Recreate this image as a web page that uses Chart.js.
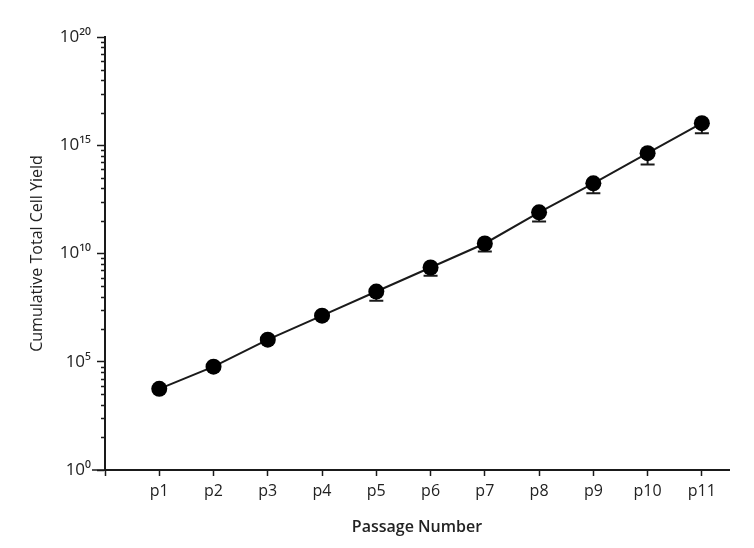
<!DOCTYPE html>
<html>
<head>
<meta charset="utf-8">
<script src="https://cdn.jsdelivr.net/npm/chart.js@4"></script>
<style>
  html, body { margin: 0; padding: 0; background: #fff; }
  #wrap { width: 754px; height: 548px; }
</style>
</head>
<body>
<div id="wrap"><canvas id="chart" width="754" height="548"></canvas></div>
<script>
// passage labels and cumulative yield (log scale)
const passages = ["p1", "p2", "p3", "p4", "p5", "p6", "p7", "p8", "p9", "p10", "p11"];
const cellYield = [5.6e3, 5.9e4, 1.05e6, 1.35e7, 1.75e8, 2.25e9, 2.9e10, 8e11, 1.75e13, 4.3e14, 1.05e16];
const yieldLow = [5.0e3, 5.2e4, 9.0e5, 1.15e7, 6.6e7, 9.5e8, 1.25e10, 3.0e11, 6.0e12, 1.3e14, 3.6e15];
const majorTicks = [1e0, 1e5, 1e10, 1e15, 1e20];
const tickLabels = ["10\u2070", "10\u2075", "10\u00b9\u2070", "10\u00b9\u2075", "10\u00b2\u2070"];

const FONT = "'Open Sans', 'DejaVu Sans', sans-serif";
const INK = "#1a1a1a";

const points = cellYield.map((v, i) => ({ x: i + 1, y: v }));

// minor ticks: log-style spacing inside each 10^5 step
function minorTicks() {
  const out = [];
  for (let d = 0; d < 20; d += 5) {
    for (let k = 2; k <= 9; k++) out.push(Math.pow(10, d) * Math.pow(k, 5));
  }
  return out;
}

const axisExtras = {
  id: "axisExtras",
  afterDraw(chart) {
    const ctx = chart.ctx;
    const y = chart.scales.y;
    const area = chart.chartArea;
    ctx.save();
    ctx.strokeStyle = INK;
    ctx.lineWidth = 1.5;
    ctx.beginPath();
    for (const v of minorTicks()) {
      const py = Math.round(y.getPixelForValue(v)) + 0.5;
      ctx.moveTo(area.left - 4, py);
      ctx.lineTo(area.left, py);
    }
    // axis origin extends a bit to the left
    ctx.moveTo(area.left - 13, area.bottom);
    ctx.lineTo(area.left, area.bottom);
    ctx.stroke();
    ctx.restore();
  }
};

const errorBars = {
  id: "errorBars",
  beforeDatasetsDraw(chart) {
    const ctx = chart.ctx;
    const xs = chart.scales.x;
    const ys = chart.scales.y;
    ctx.save();
    ctx.strokeStyle = INK;
    ctx.lineWidth = 2;
    ctx.beginPath();
    cellYield.forEach((v, i) => {
      const px = xs.getPixelForValue(i + 1);
      const top = ys.getPixelForValue(v);
      const bot = ys.getPixelForValue(yieldLow[i]);
      ctx.moveTo(px, top);
      ctx.lineTo(px, bot);
      ctx.moveTo(px - 7, bot);
      ctx.lineTo(px + 7, bot);
    });
    ctx.stroke();
    ctx.restore();
  }
};

new Chart(document.getElementById("chart").getContext("2d"), {
  type: "line",
  data: {
    datasets: [{
      label: "Cumulative Total Cell Yield",
      data: points,
      borderColor: INK,
      borderWidth: 2,
      backgroundColor: "#000",
      pointBackgroundColor: "#000",
      pointBorderColor: "#000",
      pointRadius: 8,
      pointBorderWidth: 0,
      tension: 0
    }]
  },
  options: {
    responsive: false,
    animation: false,
    layout: { padding: { top: 37, right: 25, left: 0, bottom: 0 } },
    plugins: { legend: { display: false }, tooltip: { enabled: false } },
    scales: {
      x: {
        type: "linear",
        min: 0,
        max: 11.5,
        afterBuildTicks: s => { s.ticks = [0, 1, 2, 3, 4, 5, 6, 7, 8, 9, 10, 11].map(v => ({ value: v })); },
        afterFit: s => { s.height = 78; },
        grid: { drawOnChartArea: false, drawTicks: true, tickLength: 6, tickColor: INK, tickWidth: 1.5 },
        border: { display: true, color: INK, width: 2 },
        ticks: {
          autoSkip: false,
          maxRotation: 0,
          padding: 6,
          color: "#222",
          font: { family: FONT, size: 16 },
          callback: v => passages[v - 1] || ""
        },
        title: {
          display: true,
          text: "Passage Number",
          color: "#222",
          font: { family: FONT, size: 16, weight: "600" },
          padding: { top: 3, bottom: 11 }
        }
      },
      y: {
        type: "logarithmic",
        min: 1,
        max: 1e20,
        afterBuildTicks: s => { s.ticks = majorTicks.map(v => ({ value: v })); },
        afterFit: s => { s.width = 105; },
        grid: { drawOnChartArea: false, drawTicks: true, tickLength: 8, tickColor: INK, tickWidth: 1.5 },
        border: { display: true, color: INK, width: 2 },
        ticks: {
          autoSkip: false,
          padding: 6,
          color: "#222",
          font: { family: FONT, size: 17 },
          callback: v => {
            const i = majorTicks.indexOf(v);
            return i >= 0 ? tickLabels[i] : "";
          }
        },
        title: {
          display: true,
          text: "Cumulative Total Cell Yield",
          color: "#222",
          font: { family: FONT, size: 16 },
          padding: { bottom: 0, top: 28 }
        }
      }
    }
  },
  plugins: [errorBars, axisExtras]
});
</script>
</body>
</html>
